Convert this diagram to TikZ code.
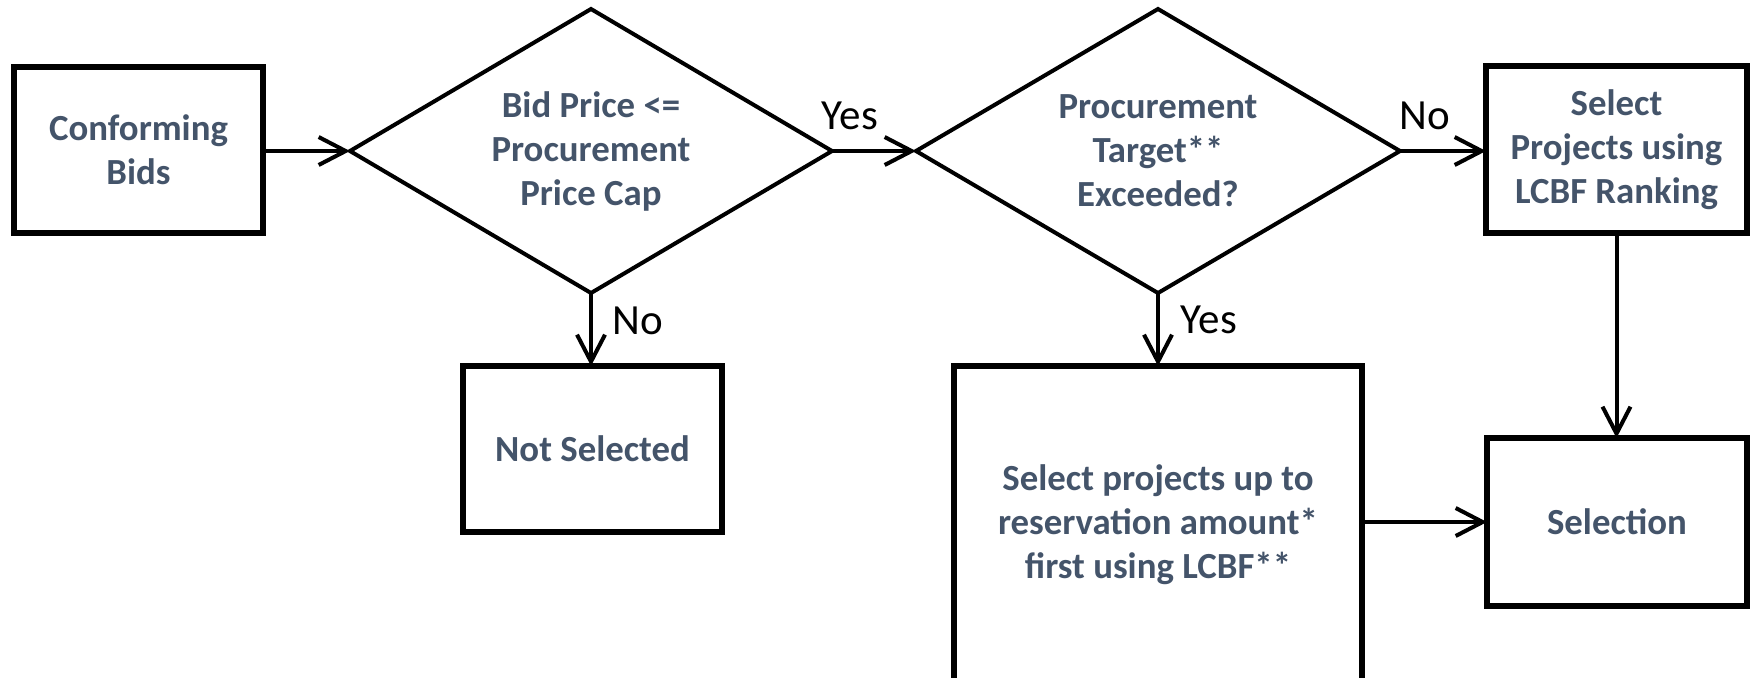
\documentclass[tikz,border=0pt]{standalone}
\usepackage{fontspec}
\setmainfont{Carlito}
\usetikzlibrary{arrows.meta}
\definecolor{txtc}{HTML}{44546A}
\begin{document}
\begin{tikzpicture}[x=0.5pt,y=-0.5pt,
  nodefont/.style={font=\fontsize{18.4pt}{22pt}\selectfont\bfseries},
  box/.style={draw=black,line width=2.6pt,fill=white,inner sep=0pt,outer sep=0pt,align=center,text=txtc,nodefont},
  diatext/.style={inner sep=0pt,align=center,text=txtc,nodefont},
  diaedge/.style={draw=black,line width=2pt,line join=miter},
  arr/.style={draw=black,line width=2pt,-{Straight Barb[length=13.5pt,width=14pt]}},
  lbl/.style={font=\fontsize{21.5pt}{26pt}\selectfont,anchor=base,inner sep=0pt,text=black}]
\fill[white] (0,0) rectangle (1755,677);
\useasboundingbox (0,0) rectangle (1755,677);

% decision diamonds
\coordinate (d1w) at (350,151);
\coordinate (d1n) at (591,9);
\coordinate (d1e) at (832,151);
\coordinate (d1s) at (591,293);
\draw[diaedge] (d1w) -- (d1n) -- (d1e) -- (d1s) -- cycle;
\node[diatext] (d1) at (591,151) {Bid Price <=\\Procurement\\Price Cap};

\coordinate (d2w) at (916,151);
\coordinate (d2n) at (1158,9);
\coordinate (d2e) at (1400,151);
\coordinate (d2s) at (1158,293);
\draw[diaedge] (d2w) -- (d2n) -- (d2e) -- (d2s) -- cycle;
\node[diatext] (d2) at (1158,151) {Procurement\\Target**\\Exceeded?};

% boxes
\node[box,minimum width=124.5pt,minimum height=83pt] (conf) at (138.5,150) {Conforming\\Bids};
\node[box,minimum width=130.5pt,minimum height=83.5pt] (selproj) at (1616.5,149.5) {Select\\Projects using\\LCBF Ranking};
\node[box,minimum width=129.5pt,minimum height=83pt] (notsel) at (592.5,449) {Not Selected};
\node[box,minimum width=204pt,minimum height=159pt] (resv) at (1158,525) {Select projects up to\\reservation amount*\\first using LCBF**};
\node[box,minimum width=130pt,minimum height=84pt] (selection) at (1617,522) {Selection};

% connectors
\draw[arr] (conf.east |- d1w) -- (d1w);
\draw[arr] (d1e) -- (d2w);
\draw[arr] (d2e) -- (selproj.west |- d2e);
\draw[arr] (d1s) -- (d1s |- notsel.north);
\draw[arr] (d2s) -- (d2s |- resv.north);
\draw[arr] (selproj.south) -- (selproj.south |- selection.north);
\draw[arr] (resv.east |- selection.west) -- (selection.west);

% labels
\node[lbl] (yes1) at (850,129) {Yes};
\node[lbl] (no1) at (1425,129) {No};
\node[lbl] (no2) at (638,334) {No};
\node[lbl] (yes2) at (1209,333) {Yes};
\end{tikzpicture}
\end{document}
